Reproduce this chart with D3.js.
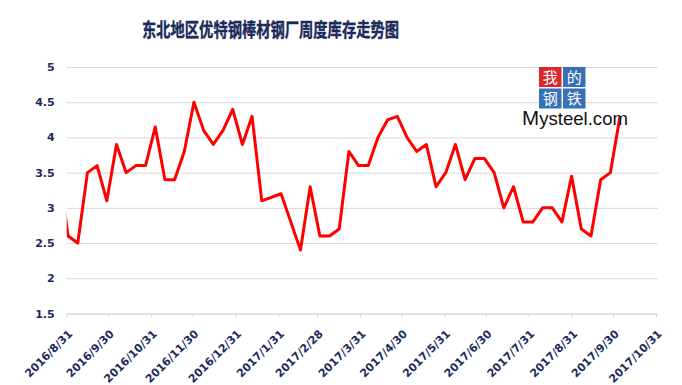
<!DOCTYPE html>
<html>
<head>
<meta charset="utf-8">
<script src="https://cdn.jsdelivr.net/npm/d3@7"></script>
<style>
  body { margin: 0; background: #fff; }
</style>
</head>
<body>
<div id="chart"></div>
<script>
var title = "东北地区优特钢棒材钢厂周度库存走势图";

// weekly readings (Thursdays), the first one sits just left of the axis and is clipped
var dates = [
    "2016/8/25", "2016/9/1", "2016/9/8", "2016/9/15", "2016/9/22", "2016/9/29",
    "2016/10/6", "2016/10/13", "2016/10/20", "2016/10/27", "2016/11/3", "2016/11/10",
    "2016/11/17", "2016/11/24", "2016/12/1", "2016/12/8", "2016/12/15", "2016/12/22",
    "2016/12/29", "2017/1/5", "2017/1/12", "2017/1/19", "2017/2/2", "2017/2/16",
    "2017/2/23", "2017/3/2", "2017/3/9", "2017/3/16", "2017/3/23", "2017/3/30",
    "2017/4/6", "2017/4/13", "2017/4/20", "2017/4/27", "2017/5/4", "2017/5/11",
    "2017/5/18", "2017/5/25", "2017/6/1", "2017/6/8", "2017/6/15", "2017/6/22",
    "2017/6/29", "2017/7/6", "2017/7/13", "2017/7/20", "2017/7/27", "2017/8/3",
    "2017/8/10", "2017/8/17", "2017/8/24", "2017/8/31", "2017/9/7", "2017/9/14",
    "2017/9/21", "2017/9/28", "2017/10/5"
];
var stock = [
    3.6, 2.6, 2.5, 3.5, 3.6, 3.1,
    3.9, 3.5, 3.6, 3.6, 4.15, 3.4,
    3.4, 3.8, 4.5, 4.1, 3.9, 4.1,
    4.4, 3.9, 4.3, 3.1, 3.2, 2.4,
    3.3, 2.6, 2.6, 2.7, 3.8, 3.6,
    3.6, 4.0, 4.25, 4.3, 4.0, 3.8,
    3.9, 3.3, 3.5, 3.9, 3.4, 3.7,
    3.7, 3.5, 3.0, 3.3, 2.8, 2.8,
    3.0, 3.0, 2.8, 3.45, 2.7, 2.6,
    3.4, 3.5, 4.3
];

var xTickLabels = [
    "2016/8/31", "2016/9/30", "2016/10/31", "2016/11/30", "2016/12/31",
    "2017/1/31", "2017/2/28", "2017/3/31", "2017/4/30", "2017/5/31",
    "2017/6/30", "2017/7/31", "2017/8/31", "2017/9/30", "2017/10/31"
];
var yTicks = [1.5, 2, 2.5, 3, 3.5, 4, 4.5, 5];

function init() {
    var w = 682;
    var h = 385;
    var left = 66.7, right = 656, top = 67, bottom = 313.5;
    var navy = "#1b2a5a";
    var labelFont = "'DejaVu Sans', Verdana, sans-serif";
    var parse = d3.timeParse("%Y/%m/%d");

    var tickDates = xTickLabels.map(parse);
    var data = dates.map(function(d, i) {
        return { date: parse(d), value: stock[i] };
    });

    var xScale = d3.scaleTime()
        .domain([tickDates[0], tickDates[tickDates.length - 1]])
        .range([left, right]);

    var yScale = d3.scaleLinear()
        .domain([1.5, 5])
        .range([bottom, top]);

    var svg = d3.select("#chart")
        .append("svg")
        .attr("width", w)
        .attr("height", h);

    // title (thin stroke to get the heavier look of the original)
    svg.append("text")
        .attr("x", 142)
        .attr("y", 37)
        .attr("textLength", 257)
        .attr("lengthAdjust", "spacingAndGlyphs")
        .style("font-family", "'Noto Sans CJK SC', sans-serif")
        .style("font-size", "19px")
        .style("font-weight", "bold")
        .style("fill", navy)
        .style("stroke", navy)
        .style("stroke-width", 0.4)
        .text(title);

    // y gridlines + labels
    var yAxis = d3.axisLeft(yScale)
        .tickValues(yTicks)
        .tickSize(-(right - left + 2))
        .tickPadding(12)
        .tickFormat(function(d) { return d; });

    var gy = svg.append("g")
        .attr("transform", "translate(" + left + ",0)")
        .call(yAxis);
    gy.select(".domain").remove();
    gy.selectAll("line").attr("stroke", "#d9d9d9");
    gy.selectAll("text")
        .style("font-family", labelFont)
        .style("font-size", "11px")
        .style("font-weight", "bold")
        .style("fill", navy);

    // x axis with month-end ticks
    var xAxis = d3.axisBottom(xScale)
        .tickValues(tickDates)
        .tickSize(4)
        .tickSizeOuter(0)
        .tickFormat(function(d, i) { return xTickLabels[i]; });

    var gx = svg.append("g")
        .attr("transform", "translate(0," + bottom + ")")
        .call(xAxis);
    gx.select(".domain").attr("stroke", "#d9d9d9");
    gx.selectAll("line").attr("stroke", "#d9d9d9");
    gx.selectAll("text")
        .attr("y", 0)
        .attr("dy", 0)
        .attr("transform", "translate(6,21) rotate(-45)")
        .style("text-anchor", "end")
        .style("font-family", labelFont)
        .style("font-size", "11px")
        .style("font-weight", "bold")
        .style("fill", navy);

    // line
    svg.append("clipPath")
        .attr("id", "plot-clip")
        .append("rect")
        .attr("x", left)
        .attr("y", 0)
        .attr("width", right - left)
        .attr("height", h);

    var line = d3.line()
        .x(function(d) { return xScale(d.date); })
        .y(function(d) { return yScale(d.value); });

    svg.append("path")
        .datum(data)
        .attr("clip-path", "url(#plot-clip)")
        .attr("d", line)
        .attr("fill", "none")
        .attr("stroke", "#ff0000")
        .attr("stroke-width", 3)
        .attr("stroke-linejoin", "round");

    // watermark logo
    var logo = svg.append("g").attr("transform", "translate(539,67)");
    var boxes = [
        { ch: "我", x: 0, y: 0, c: "#d9272e" },
        { ch: "的", x: 24, y: 0, c: "#3670b5" },
        { ch: "钢", x: 0, y: 21.5, c: "#3670b5" },
        { ch: "铁", x: 24, y: 21.5, c: "#3670b5" }
    ];
    logo.selectAll("rect")
        .data(boxes)
        .enter()
        .append("rect")
        .attr("x", function(d) { return d.x; })
        .attr("y", function(d) { return d.y; })
        .attr("width", 22.5)
        .attr("height", 20)
        .attr("fill", function(d) { return d.c; });
    logo.selectAll("text.ch")
        .data(boxes)
        .enter()
        .append("text")
        .attr("class", "ch")
        .attr("x", function(d) { return d.x + 11.25; })
        .attr("y", function(d) { return d.y + 15.8; })
        .attr("text-anchor", "middle")
        .style("font-family", "'Noto Sans CJK SC', sans-serif")
        .style("font-size", "15px")
        .style("fill", "#fff")
        .text(function(d) { return d.ch; });
    var brand = logo.append("text")
        .attr("x", -17)
        .attr("y", 57.5)
        .attr("textLength", 106)
        .attr("lengthAdjust", "spacingAndGlyphs")
        .style("font-family", "'Liberation Sans', Arial, sans-serif")
        .style("fill", "#111");
    brand.append("tspan").style("font-size", "21px").text("M");
    brand.append("tspan").style("font-size", "19px").text("ysteel.com");
}

window.onload = init;
</script>
</body>
</html>
